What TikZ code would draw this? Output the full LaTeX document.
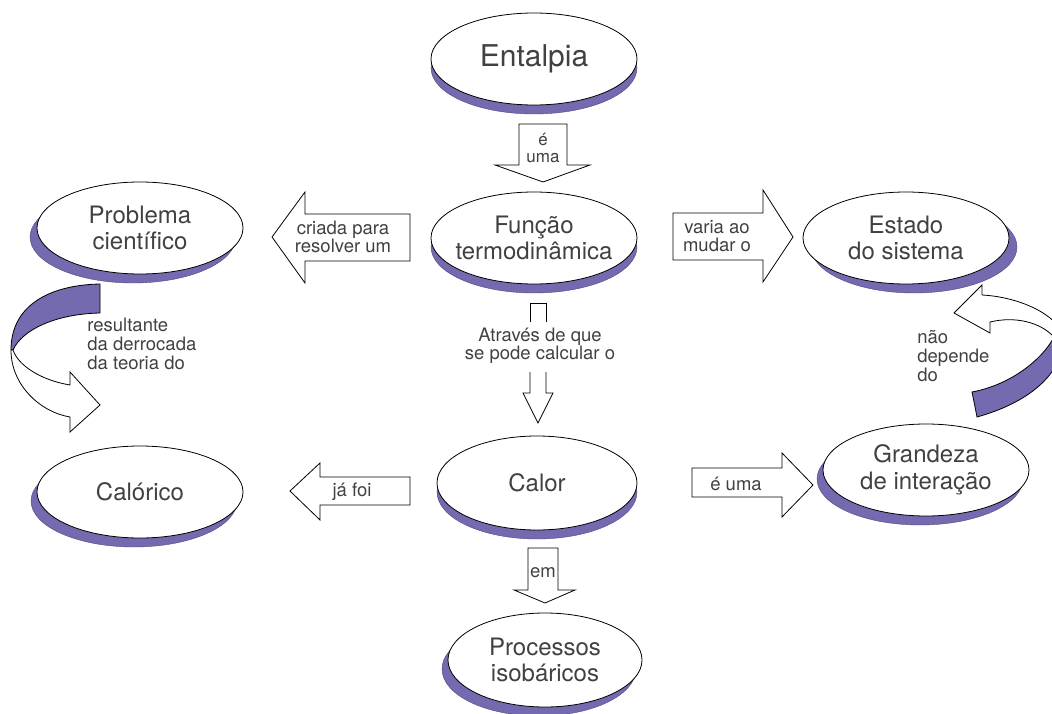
\documentclass[tikz,border=0pt]{standalone}
\usepackage{fontspec}
\setmainfont{TeX Gyre Heros}
\usetikzlibrary{shapes.geometric,shadows}
\definecolor{shp}{RGB}{115,106,176}
\definecolor{txt}{RGB}{65,65,65}
\begin{document}
\begin{tikzpicture}[x=1pt,y=-1pt, line width=0.8pt,
  el/.style={ellipse, draw=black, fill=white, inner sep=0pt, minimum width=206pt, minimum height=92pt},
  shd/.style={general shadow={shadow xshift=#1, shadow yshift=-9pt, fill=shp, draw=shp!70!black, line width=0.4pt}},
  lbl/.style={text=txt, align=center, font=\fontsize{24}{26.5}\selectfont},
  sm/.style={text=txt, align=center, font=\fontsize{18.5}{18.5}\selectfont},
  sml/.style={text=txt, align=left, font=\fontsize{18.5}{19}\selectfont, inner sep=0pt, anchor=north west},
  blk/.style={draw=black, fill=white, line width=0.8pt, line join=miter},
  rib/.style={draw=black, line width=0.8pt, line join=miter}]
\useasboundingbox (0,0) rectangle (1052,714);

% ellipses
\node[el, shd=0pt, label={[lbl, font=\fontsize{30}{32}\selectfont, name=tent]center:Entalpia}] (ent) at (534,59) {};
\node[el, shd=0pt, label={[lbl, name=tfun]center:{Função\\termodinâmica}}] (fun) at (534,238) {};
\node[el, shd=-7pt, label={[lbl, name=tpro]center:{Problema\\científico}}] (prob) at (140,228) {};
\node[el, shd=8pt, label={[lbl, name=test]center:{Estado\\do sistema}}] (est) at (906,238) {};
\node[el, shd=0pt, minimum width=200pt, minimum height=94pt, label={[lbl, name=tcal]center:Calor}] (cal) at (537,483) {};
\node[el, shd=-6pt, label={[lbl, name=tcalo]center:Calórico}] (calo) at (140,492) {};
\node[el, shd=-6pt, label={[lbl, name=tgra]center:{Grandeza\\de interação}}] (gra) at (926,470) {};
\node[el, shd=-6pt, minimum width=194pt, minimum height=94pt, label={[lbl, name=tiso]center:{Processos\\isobáricos}}] (iso) at (545,660) {};

% block arrows
\draw[blk] (519,124)--(567,124)--(567,165)--(590,165)--(543,182)--(495,165)--(519,165)--cycle;
\node[sm, font=\fontsize{17}{17}\selectfont] (l1) at (543,148) {é\\uma};

\draw[blk] (410,214)--(305,214)--(305,192)--(272,237)--(305,283)--(305,261)--(410,261)--cycle;
\node[sm] (l2) at (343,237) {criada para\\resolver um};

\draw[blk] (673,213)--(763,213)--(763,190)--(793,237)--(763,282)--(763,260)--(673,260)--cycle;
\node[sm] (l3) at (717,236) {varia ao\\mudar o};

\draw[rib] (530,322)--(530,303)--(546,303)--(546,322);
\draw[blk] (530,372)--(530,393)--(523,393)--(538,423)--(553,393)--(546,393)--(546,372);
\node[sm] (l4) at (540,346) {Através de que\\se pode calcular o};

\draw[blk] (410,477)--(320,477)--(320,463)--(290,491)--(320,520)--(320,505)--(410,505)--cycle;
\node[sm] (l5) at (352,492) {já foi};

\draw[blk] (692,468)--(782,468)--(782,453)--(813,485)--(782,517)--(782,497)--(692,497)--cycle;
\node[sm] (l6) at (736,484) {é uma};

\draw[blk] (528,548)--(558,548)--(558,590)--(575,590)--(545,603)--(514,590)--(528,590)--cycle;
\node[sm] (l7) at (543,573) {em};

% left curved ribbon arrow
\draw[rib, fill=shp] (100,284) .. controls (50,285) and (11,305) .. (11,350)
  -- (13,350) .. controls (22,330) and (55,314) .. (100,313) -- cycle;
\draw[rib, fill=white] (11,350) .. controls (11,385) and (40,412) .. (70,417)
  -- (70,432) -- (100,405) -- (70,372) -- (70,385)
  .. controls (40,380) and (18,365) .. (13,350) -- cycle;
\node[sml] (l8) at (87,318) {resultante\\da derrocada\\da teoria do};

% right curved ribbon arrow
\begin{scope}
\clip (0,0) rectangle (1052,714);
\draw[rib, fill=shp] (972,392) .. controls (1010,385) and (1042,360) .. (1054,337)
  -- (1064,337) .. controls (1062,380) and (1020,405) .. (977,417) -- cycle;
\draw[rib, fill=white] (990,322) .. controls (1015,316) and (1040,322) .. (1054,337)
  -- (1064,337) .. controls (1058,315) and (1020,297) .. (982,295)
  -- (982,285) -- (954,313) -- (990,333) -- cycle;
\end{scope}
\node[sml] (l9) at (917,330) {não\\depende\\do};
\end{tikzpicture}
\end{document}
